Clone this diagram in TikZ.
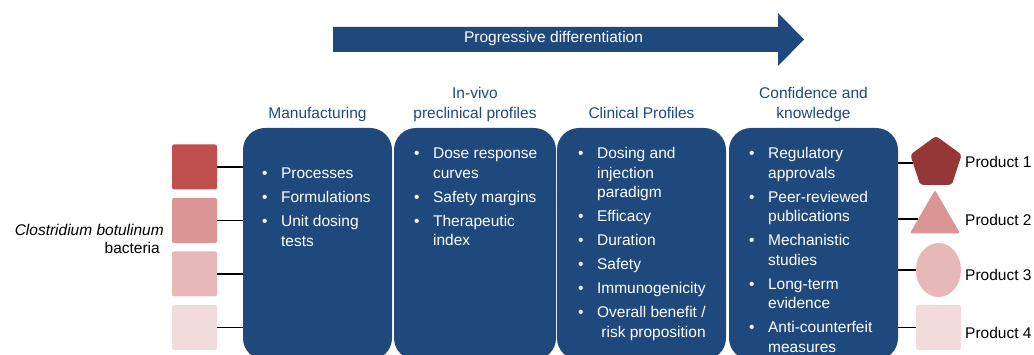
\documentclass[tikz,border=0pt]{standalone}
\usepackage{fontspec}
\setmainfont{Liberation Sans}
\usetikzlibrary{positioning, shapes.geometric}
\definecolor{navy}{RGB}{31,73,125}
\definecolor{redA}{RGB}{192,80,77}
\definecolor{redB}{RGB}{217,150,148}
\definecolor{redC}{RGB}{230,185,184}
\definecolor{redD}{RGB}{242,220,219}
\definecolor{redE}{RGB}{149,55,53}

\begin{document}
\begin{tikzpicture}[
    x=1pt, y=-1pt,
    stage/.style={fill=navy, rounded corners=22pt, minimum height=232pt,
                  inner sep=0pt},
    items/.style={anchor=north west, inner sep=0pt, text=white,
                  font=\fontsize{15.5}{19.5}\selectfont},
    hdr/.style={text=navy, align=center, inner sep=0pt, text depth=4pt,
                font=\fontsize{15.5}{20}\selectfont},
    strain/.style={rounded corners=2pt, minimum size=45pt, inner sep=0pt},
    prod/.style={inner sep=0pt},
    plabel/.style={anchor=west, inner sep=0pt,
                   font=\fontsize{15.5}{19}\selectfont},
    link/.style={line width=1.5pt},
  ]
    \useasboundingbox (0,0) rectangle (1034,355);
    \clip (0,0) rectangle (1034,355);

    % === Progressive differentiation arrow ===
    \fill[navy] (333,27) -- (778,27) -- (778,13) -- (804,39.5)
      -- (778,66) -- (778,52) -- (333,52) -- cycle;
    \node[text=white, font=\fontsize{15.5}{19}\selectfont] (prog)
      at (553.5,38.5) {Progressive differentiation};

    % === Stage boxes ===
    \node[stage, minimum width=149pt] (st1) at (317.5,244) {};
    \node[stage, minimum width=162pt] (st2) at (475,244) {};
    \node[stage, minimum width=169pt] (st3) at (641.5,244) {};
    \node[stage, minimum width=169pt] (st4) at (813.5,244) {};

    % Column headers
    \node[hdr, above=5.5pt of st1] (h1) {Manufacturing};
    \node[hdr, above=5.5pt of st2] (h2) {In-vivo\\preclinical profiles};
    \node[hdr, above=5.5pt of st3] (h3) {Clinical Profiles};
    \node[hdr, above=5.5pt of st4] (h4) {Confidence and\\knowledge};

    % === Bullet lists ===
    \node[items] (l1) at (262,164.85) {\begin{tabular}{@{}l@{\hspace{13.5pt}}l@{}}
      \textbullet & Processes\\[4.5pt]
      \textbullet & Formulations\\[4.5pt]
      \textbullet & Unit dosing\\ & tests
    \end{tabular}};
    \node[items] (l2) at (414,144.85) {\begin{tabular}{@{}l@{\hspace{13.5pt}}l@{}}
      \textbullet & Dose response\\ & curves\\[4.5pt]
      \textbullet & Safety margins\\[4.5pt]
      \textbullet & Therapeutic\\ & index
    \end{tabular}};
    \node[items] (l3) at (578,144.85) {\begin{tabular}{@{}l@{\hspace{13.5pt}}l@{}}
      \textbullet & Dosing and\\ & injection\\ & paradigm\\[4.5pt]
      \textbullet & Efficacy\\[4.5pt]
      \textbullet & Duration\\[4.5pt]
      \textbullet & Safety\\[4.5pt]
      \textbullet & Immunogenicity\\[4.5pt]
      \textbullet & Overall benefit /\\ & \ risk proposition
    \end{tabular}};
    \node[items] (l4) at (749,144.85) {\begin{tabular}{@{}l@{\hspace{13.5pt}}l@{}}
      \textbullet & Regulatory\\ & approvals\\[4.5pt]
      \textbullet & Peer-reviewed\\ & publications\\[4.5pt]
      \textbullet & Mechanistic\\ & studies\\[4.5pt]
      \textbullet & Long-term\\ & evidence\\[4.5pt]
      \textbullet & Anti-counterfeit\\ & measures
    \end{tabular}};

    % === Bacteria strains (left) ===
    \node[align=right, anchor=east, inner sep=0pt,
          font=\fontsize{15.5}{18.5}\selectfont] (bact) at (164,239)
      {{\itshape Clostridium botulinum}\\bacteria\hspace*{4pt}};
    \foreach \c [count=\i] in {redA, redB, redC, redD} {
      \node[strain, fill=\c] (s\i) at (194.5,113.5+53.5*\i) {};
      \draw[link] (s\i.east) -- (s\i.east -| st1.west);
    }

    % === Products (right) ===
    \node[prod, regular polygon, regular polygon sides=5, minimum size=54pt,
          rounded corners=3pt, fill=redE] (p1) at (936,163) {};
    \node[prod, regular polygon, regular polygon sides=3, minimum size=58pt,
          rounded corners=2pt, fill=redB] (p2) at (935,219) {};
    \node[prod, ellipse, minimum width=45pt, minimum height=54pt,
          fill=redC] (p3) at (938.5,270) {};
    \node[prod, strain, fill=redD] (p4) at (938.5,327.5) {};

    \foreach \i in {1,...,4}
      \draw[link] (st4.east |- p\i.west) -- (p\i.west);

    \node[plabel] (n1) at (965,162) {Product 1};
    \node[plabel] (n2) at (965,220) {Product 2};
    \node[plabel] (n3) at (965,275) {Product 3};
    \node[plabel] (n4) at (965,333) {Product 4};
  \end{tikzpicture}
\end{document}
